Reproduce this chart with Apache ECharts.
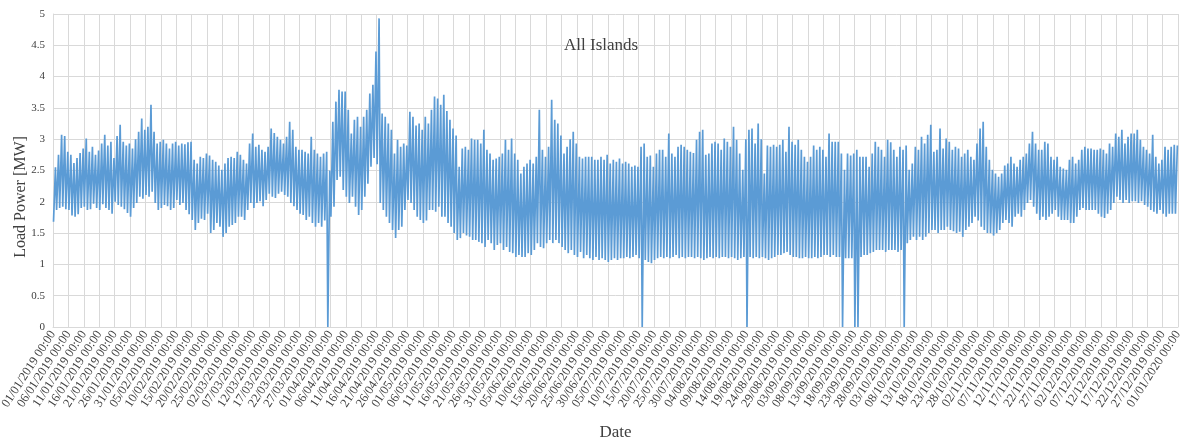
<!DOCTYPE html>
<html>
<head>
<meta charset="utf-8">
<script src="https://cdn.jsdelivr.net/npm/echarts@6/dist/echarts.min.js"></script>
<style>
  html, body { margin: 0; padding: 0; background: #ffffff; }
  #chart { width: 1182px; height: 441px; }
</style>
</head>
<body>
<div id="chart"></div>
<script>
// Daily peak and trough of the aggregated island load, 2019 (MW), one entry per day from 01/01.
const dailyMax = [
  2.55, 2.75, 3.07, 3.05, 2.80, 2.75, 2.62, 2.70, 2.78, 2.85, 3.01, 2.80, 2.88, 2.75, 2.82, 2.93, 3.07, 2.90, 2.96, 2.70,
  3.05, 3.23, 2.96, 2.90, 2.93, 2.85, 3.00, 3.12, 3.33, 3.15,
  3.20, 3.55, 3.12, 2.93, 2.96, 2.99, 2.93, 2.85, 2.93, 2.96, 2.90, 2.93, 2.92, 2.95, 2.96, 2.67, 2.61, 2.72, 2.70, 2.77,
  2.74, 2.67, 2.64, 2.58, 2.51, 2.61, 2.70, 2.72, 2.70, 2.80, 2.75,
  2.67, 2.61, 2.93, 3.09, 2.88, 2.91, 2.83, 2.80, 2.88, 3.17, 3.10, 3.04, 2.99, 2.93, 3.04, 3.28, 3.15, 2.88, 2.83, 2.83,
  2.80, 2.77, 3.04, 2.83, 2.77, 2.72, 2.77, 2.80, 2.50, 3.28, 3.60,
  3.79, 3.76, 3.76, 3.47, 3.09, 3.31, 3.36, 3.20, 3.36, 3.47, 3.73, 3.87, 4.40, 4.93, 3.41, 3.36, 3.25, 3.15, 2.77, 2.99,
  2.88, 2.93, 2.90, 3.44, 3.36, 3.22, 3.25, 3.15, 3.36, 3.25, 3.47,
  3.68, 3.65, 3.55, 3.71, 3.45, 3.31, 3.17, 3.06, 2.56, 2.85, 2.88, 2.83, 3.01, 2.99, 2.99, 2.93, 3.15, 2.83, 2.77, 2.67,
  2.69, 2.72, 2.77, 2.99, 2.83, 3.01, 2.77, 2.67, 2.45, 2.56, 2.61,
  2.67, 2.61, 2.72, 3.47, 2.83, 2.72, 2.88, 3.63, 3.31, 3.25, 3.06, 2.77, 2.88, 3.00, 3.12, 2.93, 2.72, 2.69, 2.72, 2.72,
  2.72, 2.67, 2.67, 2.72, 2.67, 2.75, 2.61, 2.67, 2.64, 2.69, 2.61,
  2.64, 2.61, 2.56, 2.58, 2.56, 2.88, 2.93, 2.72, 2.74, 2.56, 2.77, 2.83, 2.83, 2.72, 3.09, 2.77, 2.72, 2.88, 2.91, 2.88,
  2.83, 2.80, 2.78, 2.99, 3.12, 3.15, 2.75, 2.77, 2.93, 2.96,
  2.93, 2.83, 3.01, 2.96, 2.88, 3.20, 2.99, 2.77, 2.51, 3.00, 3.15, 3.17, 2.93, 3.25, 3.00, 2.45, 2.90, 2.88, 2.91, 2.88,
  2.91, 2.99, 2.80, 3.20, 2.96, 2.91, 2.99, 2.83, 2.72, 2.64, 2.72,
  2.90, 2.83, 2.88, 2.83, 2.72, 3.09, 2.96, 2.96, 2.96, 2.77, 2.51, 2.77, 2.74, 2.77, 2.83, 2.72, 2.72, 2.72, 2.56, 2.77,
  2.96, 2.88, 2.83, 2.72, 2.99, 2.95, 2.83, 2.72, 2.88, 2.83, 2.90,
  2.51, 2.61, 2.88, 2.83, 3.04, 2.93, 3.07, 3.23, 2.80, 2.83, 3.17, 2.85, 3.01, 2.96, 2.83, 2.88, 2.85, 2.72, 2.77, 2.83,
  2.72, 2.67, 2.93, 3.17, 3.28, 2.88, 2.67, 2.51, 2.45, 2.40,
  2.45, 2.58, 2.61, 2.72, 2.61, 2.56, 2.67, 2.72, 2.77, 2.93, 3.12, 2.93, 2.83, 2.83, 2.96, 2.93, 2.72, 2.67, 2.72, 2.56,
  2.53, 2.51, 2.67, 2.72, 2.61, 2.67, 2.83, 2.88, 2.85, 2.85, 2.83,
  2.83, 2.85, 2.83, 2.77, 2.93, 2.88, 3.09, 3.04, 3.15, 2.93, 3.04, 3.09, 3.09, 3.15, 2.99, 2.88, 2.83, 2.77, 3.07, 2.72,
  2.61, 2.67, 2.88, 2.83, 2.88, 2.91, 2.90
];
const dailyMin = [
  1.68, 1.87, 1.90, 1.92, 1.88, 1.87, 1.78, 1.76, 1.80, 1.90, 1.92, 1.87, 1.88, 1.97, 1.90, 1.87, 1.96, 1.90, 1.87, 1.81,
  2.00, 1.95, 1.92, 1.88, 1.82, 1.76, 1.90, 1.98, 2.08, 2.05,
  2.11, 2.08, 2.16, 1.98, 1.87, 1.90, 1.95, 1.93, 1.87, 1.90, 2.03, 1.95, 1.98, 1.87, 1.80, 1.71, 1.55, 1.66, 1.73, 1.71,
  1.81, 1.50, 1.55, 1.66, 1.60, 1.44, 1.50, 1.60, 1.63, 1.66, 1.76,
  1.76, 1.71, 1.87, 1.98, 1.90, 1.98, 2.01, 1.93, 2.03, 2.13, 2.08, 2.06, 2.13, 2.16, 2.11, 2.08, 1.98, 1.93, 1.87, 1.81,
  1.79, 1.71, 1.76, 1.66, 1.60, 1.66, 1.60, 1.70, 0.00, 1.76, 1.92,
  2.35, 2.40, 2.19, 2.08, 1.98, 2.08, 1.92, 1.79, 1.87, 2.08, 2.29, 2.56, 2.70, 2.60, 1.98, 1.87, 1.76, 1.66, 1.55, 1.42,
  1.55, 1.60, 1.87, 2.03, 1.98, 1.87, 1.76, 1.71, 1.66, 1.70, 1.87,
  1.87, 1.84, 1.92, 1.76, 1.76, 1.66, 1.60, 1.50, 1.39, 1.42, 1.50, 1.46, 1.44, 1.39, 1.39, 1.36, 1.34, 1.28, 1.39, 1.34,
  1.23, 1.31, 1.34, 1.23, 1.28, 1.20, 1.18, 1.12, 1.15, 1.12, 1.12,
  1.18, 1.15, 1.23, 1.34, 1.28, 1.26, 1.34, 1.39, 1.34, 1.39, 1.34, 1.28, 1.23, 1.18, 1.23, 1.15, 1.12, 1.20, 1.10, 1.15,
  1.10, 1.07, 1.12, 1.07, 1.10, 1.07, 1.04, 1.07, 1.10, 1.07, 1.10,
  1.10, 1.12, 1.10, 1.12, 1.15, 1.10, 0.00, 1.07, 1.04, 1.02, 1.07, 1.10, 1.12, 1.10, 1.12, 1.10, 1.12, 1.15, 1.10, 1.12,
  1.10, 1.12, 1.12, 1.10, 1.12, 1.10, 1.07, 1.10, 1.12, 1.10,
  1.12, 1.10, 1.12, 1.12, 1.10, 1.12, 1.10, 1.07, 1.10, 1.12, 0.00, 1.12, 1.10, 1.12, 1.10, 1.12, 1.10, 1.07, 1.10, 1.12,
  1.15, 1.15, 1.18, 1.20, 1.15, 1.12, 1.12, 1.10, 1.10, 1.12, 1.10,
  1.10, 1.12, 1.10, 1.12, 1.15, 1.15, 1.12, 1.15, 1.12, 1.12, 0.00, 1.10, 1.10, 1.10, 0.00, 0.00, 1.12, 1.15, 1.15, 1.18,
  1.20, 1.23, 1.23, 1.23, 1.20, 1.23, 1.23, 1.23, 1.20, 1.23, 0.00,
  1.34, 1.39, 1.44, 1.39, 1.44, 1.39, 1.44, 1.50, 1.55, 1.55, 1.50, 1.55, 1.55, 1.60, 1.55, 1.53, 1.50, 1.52, 1.44, 1.55,
  1.60, 1.66, 1.76, 1.70, 1.60, 1.55, 1.50, 1.50, 1.46, 1.50,
  1.55, 1.66, 1.71, 1.66, 1.60, 1.76, 1.81, 1.76, 1.87, 1.98, 2.03, 1.92, 1.81, 1.71, 1.76, 1.71, 1.76, 1.81, 1.87, 1.76,
  1.71, 1.71, 1.71, 1.66, 1.66, 1.76, 1.87, 1.90, 1.87, 1.87, 1.87,
  1.87, 1.81, 1.76, 1.74, 1.81, 1.87, 1.98, 2.08, 2.03, 1.98, 2.03, 1.98, 2.01, 2.01, 1.98, 2.01, 1.95, 1.92, 1.87, 1.84,
  1.81, 1.87, 1.81, 1.76, 1.81, 1.81, 1.81
];

// Hour of day at which the daily trough and peak occur.
const troughHour = 4;
const peakHour = 19;

// Axis set-up: hours since 01/01/2019 00:00, a labelled tick every five days.
const yearStart = Date.UTC(2019, 0, 1);
const hoursInYear = 8760;
const tickStepHours = 120;
const yTicks = [0, 0.5, 1, 1.5, 2, 2.5, 3, 3.5, 4, 4.5, 5];

const pad = n => (n < 10 ? '0' : '') + n;
function hourLabel(h) {
  const d = new Date(yearStart + h * 3600 * 1000);
  return pad(d.getUTCDate()) + '/' + pad(d.getUTCMonth() + 1) + '/' + d.getUTCFullYear() + ' 00:00';
}

const loadSeries = [];
for (let d = 0; d < dailyMax.length; d++) {
  loadSeries.push([d * 24 + troughHour, dailyMin[d]]);
  loadSeries.push([d * 24 + peakHour, dailyMax[d]]);
}

const serif = '"Liberation Serif", "Times New Roman", serif';
const textGrey = '#404040';
const chart = echarts.init(document.getElementById('chart'), null, { renderer: 'canvas' });
chart.setOption({
  animation: false,
  backgroundColor: '#ffffff',
  title: {
    text: 'All Islands',
    left: 559,
    top: 32,
    textStyle: { fontFamily: serif, fontSize: 17, fontWeight: 'normal', color: textGrey }
  },
  graphic: [{
    type: 'text',
    x: 21,
    y: 197,
    rotation: Math.PI / 2,
    style: {
      text: 'Load Power [MW]',
      fontFamily: serif,
      fontSize: 16,
      fill: textGrey,
      align: 'center',
      verticalAlign: 'middle'
    }
  }],
  grid: { left: 53, right: 4, top: 14, bottom: 114, containLabel: false, outerBoundsMode: 'none' },
  xAxis: {
    type: 'value',
    min: 0,
    max: hoursInYear,
    interval: tickStepHours,
    name: 'Date',
    nameLocation: 'middle',
    nameGap: 97,
    nameTextStyle: { fontFamily: serif, fontSize: 17, color: textGrey },
    axisLine: { show: true, lineStyle: { color: '#d9d9d9' } },
    axisTick: { show: false },
    splitLine: { show: true, lineStyle: { color: '#d9d9d9', width: 1 } },
    axisLabel: {
      rotate: 57,
      margin: 5,
      fontFamily: serif,
      fontSize: 12.5,
      color: textGrey,
      showMinLabel: true,
      showMaxLabel: true,
      formatter: v => hourLabel(v)
    }
  },
  yAxis: {
    type: 'value',
    min: yTicks[0],
    max: yTicks[yTicks.length - 1],
    interval: 0.5,
    axisLine: { show: true, lineStyle: { color: '#d9d9d9' } },
    axisTick: { show: false },
    splitLine: { show: true, lineStyle: { color: '#d9d9d9', width: 1 } },
    axisLabel: {
      margin: 8,
      fontFamily: serif,
      fontSize: 11,
      color: textGrey,
      formatter: v => String(v)
    }
  },
  series: [{
    name: 'Load Power',
    type: 'line',
    data: loadSeries,
    showSymbol: false,
    symbol: 'none',
    sampling: null,
    lineStyle: { color: '#5B9BD5', width: 1.7 },
    itemStyle: { color: '#5B9BD5' }
  }]
});
</script>
</body>
</html>
